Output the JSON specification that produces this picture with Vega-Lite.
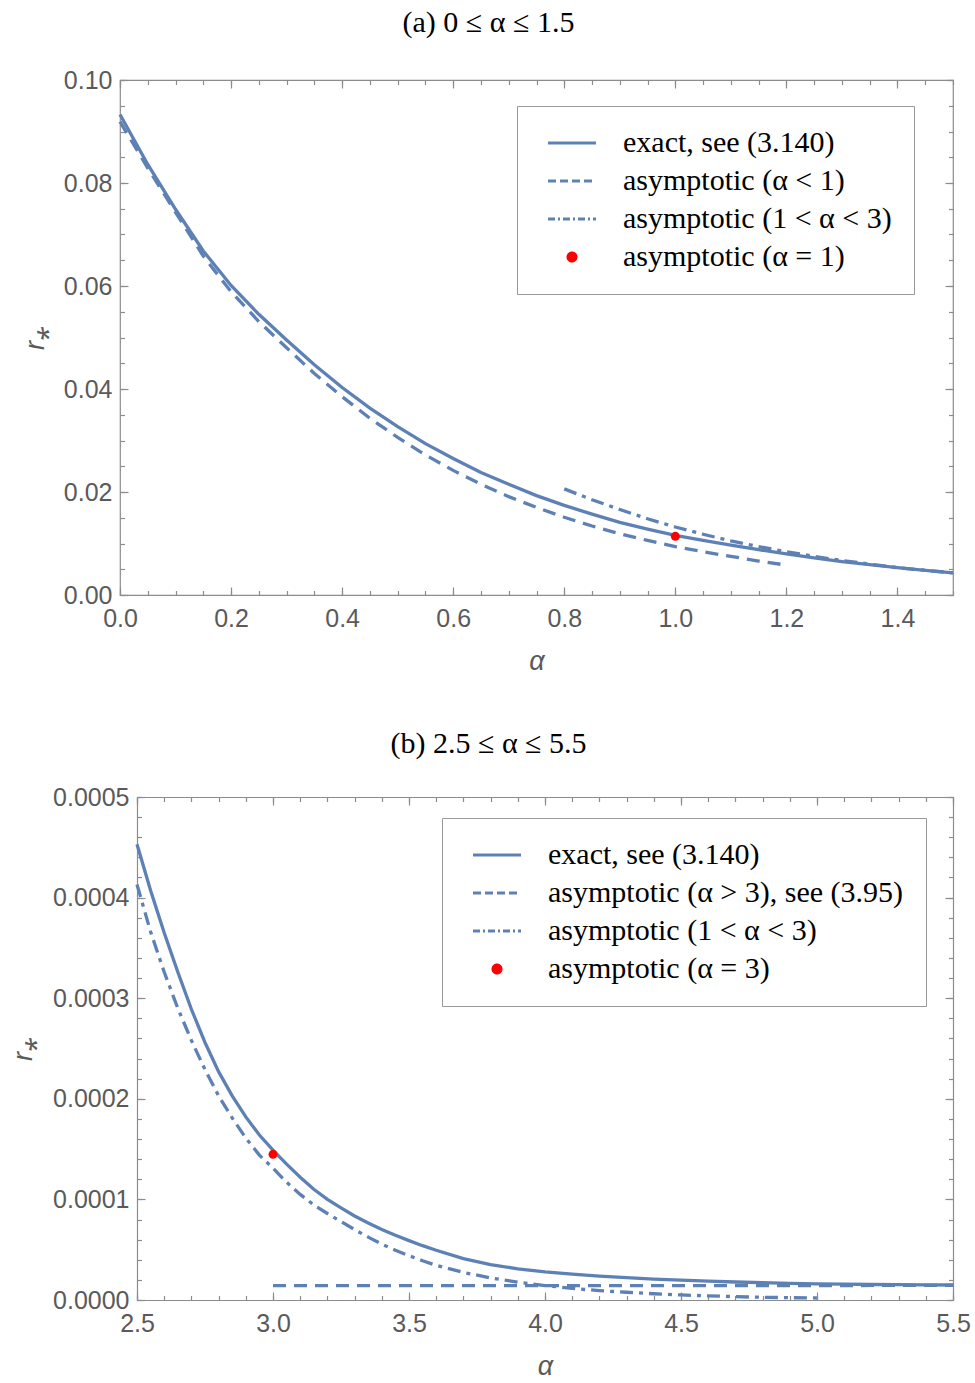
{
  "$schema": "https://vega.github.io/schema/vega-lite/v6.json",
  "background": "white",
  "padding": {"left": 9, "top": 7, "right": 0, "bottom": 0},
  "config": {
    "view": {"stroke": "#8c8c8c", "strokeWidth": 1.2},
    "axis": {"domain": false, "domainColor": "#8c8c8c", "domainWidth": 1.2, "grid": false, "tickColor": "#8c8c8c", "tickWidth": 1.2, "labelColor": "#5a5a5a", "labelFont": "Liberation Sans", "labelFontSize": 25, "labelFlush": false, "labelOverlap": false, "titleFont": "Liberation Sans", "titleFontStyle": "italic", "titleFontWeight": "normal", "titleFontSize": 27, "titleColor": "#5a5a5a"},
    "title": {"font": "Liberation Serif", "fontSize": 30, "fontWeight": "normal", "color": "black", "anchor": "middle", "frame": "group"},
    "legend": {"orient": "none", "title": null, "direction": "vertical", "fillColor": "white", "strokeColor": "#999999", "padding": 22, "symbolSize": 576, "symbolOffset": 18, "labelOffset": 36, "labelFont": "Liberation Serif", "labelFontSize": 30, "labelColor": "black", "labelLimit": 700, "rowPadding": 8}
  },
  "datasets": {
    "a_exact": [
      {"a": 0, "r": 0.0933, "s": "exact, see (3.140)"}, {"a": 0.05, "r": 0.0836, "s": "exact, see (3.140)"}, {"a": 0.1, "r": 0.0749, "s": "exact, see (3.140)"}, {"a": 0.15, "r": 0.0668, "s": "exact, see (3.140)"}, {"a": 0.2, "r": 0.0601, "s": "exact, see (3.140)"}, {"a": 0.25, "r": 0.0545, "s": "exact, see (3.140)"}, {"a": 0.3, "r": 0.0495, "s": "exact, see (3.140)"}, {"a": 0.35, "r": 0.0447, "s": "exact, see (3.140)"}, {"a": 0.4, "r": 0.0403, "s": "exact, see (3.140)"}, {"a": 0.45, "r": 0.0363, "s": "exact, see (3.140)"}, {"a": 0.5, "r": 0.0327, "s": "exact, see (3.140)"}, {"a": 0.55, "r": 0.0294, "s": "exact, see (3.140)"}, {"a": 0.6, "r": 0.0265, "s": "exact, see (3.140)"}, {"a": 0.65, "r": 0.0238, "s": "exact, see (3.140)"}, {"a": 0.7, "r": 0.0215, "s": "exact, see (3.140)"}, {"a": 0.75, "r": 0.0193, "s": "exact, see (3.140)"}, {"a": 0.8, "r": 0.0174, "s": "exact, see (3.140)"}, {"a": 0.85, "r": 0.0157, "s": "exact, see (3.140)"}, {"a": 0.9, "r": 0.0141, "s": "exact, see (3.140)"}, {"a": 0.95, "r": 0.0128, "s": "exact, see (3.140)"}, {"a": 1.0, "r": 0.0116, "s": "exact, see (3.140)"}, {"a": 1.05, "r": 0.0106, "s": "exact, see (3.140)"}, {"a": 1.1, "r": 0.0097, "s": "exact, see (3.140)"}, {"a": 1.15, "r": 0.0088, "s": "exact, see (3.140)"}, {"a": 1.2, "r": 0.008, "s": "exact, see (3.140)"}, {"a": 1.25, "r": 0.0072, "s": "exact, see (3.140)"}, {"a": 1.3, "r": 0.0065, "s": "exact, see (3.140)"}, {"a": 1.35, "r": 0.0059, "s": "exact, see (3.140)"}, {"a": 1.4, "r": 0.0053, "s": "exact, see (3.140)"}, {"a": 1.45, "r": 0.0048, "s": "exact, see (3.140)"}, {"a": 1.5, "r": 0.0043, "s": "exact, see (3.140)"}
    ],
    "a_dash": [
      {"a": 0, "r": 0.0919, "s": "asymptotic (α < 1)"}, {"a": 0.05, "r": 0.0829, "s": "asymptotic (α < 1)"}, {"a": 0.1, "r": 0.0743, "s": "asymptotic (α < 1)"}, {"a": 0.15, "r": 0.0658, "s": "asymptotic (α < 1)"}, {"a": 0.2, "r": 0.0589, "s": "asymptotic (α < 1)"}, {"a": 0.25, "r": 0.0531, "s": "asymptotic (α < 1)"}, {"a": 0.3, "r": 0.048, "s": "asymptotic (α < 1)"}, {"a": 0.35, "r": 0.043, "s": "asymptotic (α < 1)"}, {"a": 0.4, "r": 0.0385, "s": "asymptotic (α < 1)"}, {"a": 0.45, "r": 0.0343, "s": "asymptotic (α < 1)"}, {"a": 0.5, "r": 0.0306, "s": "asymptotic (α < 1)"}, {"a": 0.55, "r": 0.0272, "s": "asymptotic (α < 1)"}, {"a": 0.6, "r": 0.0242, "s": "asymptotic (α < 1)"}, {"a": 0.65, "r": 0.0215, "s": "asymptotic (α < 1)"}, {"a": 0.7, "r": 0.0191, "s": "asymptotic (α < 1)"}, {"a": 0.75, "r": 0.017, "s": "asymptotic (α < 1)"}, {"a": 0.8, "r": 0.0151, "s": "asymptotic (α < 1)"}, {"a": 0.85, "r": 0.0134, "s": "asymptotic (α < 1)"}, {"a": 0.9, "r": 0.0119, "s": "asymptotic (α < 1)"}, {"a": 0.95, "r": 0.0106, "s": "asymptotic (α < 1)"}, {"a": 1.0, "r": 0.0094, "s": "asymptotic (α < 1)"}, {"a": 1.05, "r": 0.0084, "s": "asymptotic (α < 1)"}, {"a": 1.1, "r": 0.0075, "s": "asymptotic (α < 1)"}, {"a": 1.15, "r": 0.0066, "s": "asymptotic (α < 1)"}, {"a": 1.2, "r": 0.0058, "s": "asymptotic (α < 1)"}
    ],
    "a_dashdot": [
      {"a": 0.8, "r": 0.0206, "s": "asymptotic (1 < α < 3)"}, {"a": 0.85, "r": 0.0185, "s": "asymptotic (1 < α < 3)"}, {"a": 0.9, "r": 0.0166, "s": "asymptotic (1 < α < 3)"}, {"a": 0.95, "r": 0.0148, "s": "asymptotic (1 < α < 3)"}, {"a": 1.0, "r": 0.0132, "s": "asymptotic (1 < α < 3)"}, {"a": 1.05, "r": 0.0118, "s": "asymptotic (1 < α < 3)"}, {"a": 1.1, "r": 0.0105, "s": "asymptotic (1 < α < 3)"}, {"a": 1.15, "r": 0.0094, "s": "asymptotic (1 < α < 3)"}, {"a": 1.2, "r": 0.0084, "s": "asymptotic (1 < α < 3)"}, {"a": 1.25, "r": 0.0075, "s": "asymptotic (1 < α < 3)"}, {"a": 1.3, "r": 0.0067, "s": "asymptotic (1 < α < 3)"}, {"a": 1.35, "r": 0.006, "s": "asymptotic (1 < α < 3)"}, {"a": 1.4, "r": 0.0053, "s": "asymptotic (1 < α < 3)"}, {"a": 1.45, "r": 0.0048, "s": "asymptotic (1 < α < 3)"}, {"a": 1.5, "r": 0.0043, "s": "asymptotic (1 < α < 3)"}
    ],
    "a_point": [
      {"a": 1.0, "r": 0.0114, "s": "asymptotic (α = 1)"}
    ],
    "b_exact": [
      {"a": 2.5, "r": 0.000453, "s": "exact, see (3.140)"}, {"a": 2.55, "r": 0.000407, "s": "exact, see (3.140)"}, {"a": 2.6, "r": 0.000365, "s": "exact, see (3.140)"}, {"a": 2.65, "r": 0.000326, "s": "exact, see (3.140)"}, {"a": 2.7, "r": 0.000289, "s": "exact, see (3.140)"}, {"a": 2.75, "r": 0.000256, "s": "exact, see (3.140)"}, {"a": 2.8, "r": 0.000227, "s": "exact, see (3.140)"}, {"a": 2.85, "r": 0.000203, "s": "exact, see (3.140)"}, {"a": 2.9, "r": 0.000182, "s": "exact, see (3.140)"}, {"a": 2.95, "r": 0.000164, "s": "exact, see (3.140)"}, {"a": 3.0, "r": 0.000149, "s": "exact, see (3.140)"}, {"a": 3.05, "r": 0.000135, "s": "exact, see (3.140)"}, {"a": 3.1, "r": 0.000122, "s": "exact, see (3.140)"}, {"a": 3.15, "r": 0.00011, "s": "exact, see (3.140)"}, {"a": 3.2, "r": 0.0001, "s": "exact, see (3.140)"}, {"a": 3.25, "r": 0.0000915, "s": "exact, see (3.140)"}, {"a": 3.3, "r": 0.0000835, "s": "exact, see (3.140)"}, {"a": 3.35, "r": 0.0000765, "s": "exact, see (3.140)"}, {"a": 3.4, "r": 0.00007, "s": "exact, see (3.140)"}, {"a": 3.45, "r": 0.0000643, "s": "exact, see (3.140)"}, {"a": 3.5, "r": 0.000059, "s": "exact, see (3.140)"}, {"a": 3.55, "r": 0.000054, "s": "exact, see (3.140)"}, {"a": 3.6, "r": 0.0000495, "s": "exact, see (3.140)"}, {"a": 3.7, "r": 0.0000412, "s": "exact, see (3.140)"}, {"a": 3.8, "r": 0.0000352, "s": "exact, see (3.140)"}, {"a": 3.9, "r": 0.000031, "s": "exact, see (3.140)"}, {"a": 4.0, "r": 0.000028, "s": "exact, see (3.140)"}, {"a": 4.1, "r": 0.0000257, "s": "exact, see (3.140)"}, {"a": 4.2, "r": 0.0000238, "s": "exact, see (3.140)"}, {"a": 4.3, "r": 0.0000222, "s": "exact, see (3.140)"}, {"a": 4.4, "r": 0.0000208, "s": "exact, see (3.140)"}, {"a": 4.5, "r": 0.0000197, "s": "exact, see (3.140)"}, {"a": 4.6, "r": 0.0000187, "s": "exact, see (3.140)"}, {"a": 4.7, "r": 0.0000179, "s": "exact, see (3.140)"}, {"a": 4.8, "r": 0.0000172, "s": "exact, see (3.140)"}, {"a": 4.9, "r": 0.0000166, "s": "exact, see (3.140)"}, {"a": 5.0, "r": 0.0000161, "s": "exact, see (3.140)"}, {"a": 5.1, "r": 0.0000157, "s": "exact, see (3.140)"}, {"a": 5.2, "r": 0.0000154, "s": "exact, see (3.140)"}, {"a": 5.3, "r": 0.0000152, "s": "exact, see (3.140)"}, {"a": 5.4, "r": 0.000015, "s": "exact, see (3.140)"}, {"a": 5.5, "r": 0.0000149, "s": "exact, see (3.140)"}
    ],
    "b_dash": [
      {"a": 3.0, "r": 0.0000143, "s": "asymptotic (α > 3), see (3.95)"}, {"a": 4.0, "r": 0.0000143, "s": "asymptotic (α > 3), see (3.95)"}, {"a": 5.0, "r": 0.0000144, "s": "asymptotic (α > 3), see (3.95)"}, {"a": 5.5, "r": 0.0000145, "s": "asymptotic (α > 3), see (3.95)"}
    ],
    "b_dashdot": [
      {"a": 2.5, "r": 0.000413, "s": "asymptotic (1 < α < 3)"}, {"a": 2.55, "r": 0.000366, "s": "asymptotic (1 < α < 3)"}, {"a": 2.6, "r": 0.000326, "s": "asymptotic (1 < α < 3)"}, {"a": 2.65, "r": 0.00029, "s": "asymptotic (1 < α < 3)"}, {"a": 2.7, "r": 0.000258, "s": "asymptotic (1 < α < 3)"}, {"a": 2.75, "r": 0.000229, "s": "asymptotic (1 < α < 3)"}, {"a": 2.8, "r": 0.000203, "s": "asymptotic (1 < α < 3)"}, {"a": 2.85, "r": 0.000181, "s": "asymptotic (1 < α < 3)"}, {"a": 2.9, "r": 0.000161, "s": "asymptotic (1 < α < 3)"}, {"a": 2.95, "r": 0.000144, "s": "asymptotic (1 < α < 3)"}, {"a": 3.0, "r": 0.000131, "s": "asymptotic (1 < α < 3)"}, {"a": 3.05, "r": 0.000117, "s": "asymptotic (1 < α < 3)"}, {"a": 3.1, "r": 0.000105, "s": "asymptotic (1 < α < 3)"}, {"a": 3.15, "r": 0.0000945, "s": "asymptotic (1 < α < 3)"}, {"a": 3.2, "r": 0.000086, "s": "asymptotic (1 < α < 3)"}, {"a": 3.25, "r": 0.000078, "s": "asymptotic (1 < α < 3)"}, {"a": 3.3, "r": 0.00007, "s": "asymptotic (1 < α < 3)"}, {"a": 3.35, "r": 0.0000625, "s": "asymptotic (1 < α < 3)"}, {"a": 3.4, "r": 0.0000555, "s": "asymptotic (1 < α < 3)"}, {"a": 3.45, "r": 0.0000495, "s": "asymptotic (1 < α < 3)"}, {"a": 3.5, "r": 0.000044, "s": "asymptotic (1 < α < 3)"}, {"a": 3.55, "r": 0.000039, "s": "asymptotic (1 < α < 3)"}, {"a": 3.6, "r": 0.0000345, "s": "asymptotic (1 < α < 3)"}, {"a": 3.7, "r": 0.0000274, "s": "asymptotic (1 < α < 3)"}, {"a": 3.8, "r": 0.000022, "s": "asymptotic (1 < α < 3)"}, {"a": 3.9, "r": 0.0000178, "s": "asymptotic (1 < α < 3)"}, {"a": 4.0, "r": 0.0000144, "s": "asymptotic (1 < α < 3)"}, {"a": 4.1, "r": 0.0000115, "s": "asymptotic (1 < α < 3)"}, {"a": 4.2, "r": 0.0000093, "s": "asymptotic (1 < α < 3)"}, {"a": 4.3, "r": 0.0000077, "s": "asymptotic (1 < α < 3)"}, {"a": 4.4, "r": 0.0000062, "s": "asymptotic (1 < α < 3)"}, {"a": 4.5, "r": 0.000005, "s": "asymptotic (1 < α < 3)"}, {"a": 4.6, "r": 0.0000041, "s": "asymptotic (1 < α < 3)"}, {"a": 4.7, "r": 0.0000033, "s": "asymptotic (1 < α < 3)"}, {"a": 4.8, "r": 0.0000027, "s": "asymptotic (1 < α < 3)"}, {"a": 4.9, "r": 0.0000023, "s": "asymptotic (1 < α < 3)"}, {"a": 5.0, "r": 0.000002, "s": "asymptotic (1 < α < 3)"}
    ],
    "b_point": [
      {"a": 3.0, "r": 0.0001448, "s": "asymptotic (α = 3)"}
    ]
  },
  "concat": [
    {
      "title": {"text": "(a) 0 ≤ α ≤ 1.5", "offset": 30, "dx": -48},
      "width": 833,
      "height": 515,
      "resolve": {"axis": {"x": "independent", "y": "independent"}},
      "layer": [
        {
          "data": {"name": "a_exact"},
          "mark": {"type": "line", "strokeWidth": 3.3},
          "encoding": {
            "x": {"field": "a", "type": "quantitative", "scale": {"domain": [0, 1.5], "nice": false, "zero": false},
                  "axis": {"orient": "bottom", "values": [0, 0.2, 0.4, 0.6, 0.8, 1.0, 1.2, 1.4], "format": ".1f", "tickSize": -8, "labelPadding": 19, "title": "α", "titlePadding": 17}},
            "y": {"field": "r", "type": "quantitative", "scale": {"domain": [0, 0.1], "nice": false},
                  "axis": {"orient": "left", "values": [0, 0.02, 0.04, 0.06, 0.08, 0.1], "format": ".2f", "tickSize": -8, "labelPadding": 16, "title": "r⁎", "titlePadding": 14}},
            "color": {"field": "s", "type": "nominal",
                      "scale": {"domain": ["exact, see (3.140)", "asymptotic (α < 1)", "asymptotic (1 < α < 3)", "asymptotic (α = 1)"], "range": ["#5e81b5", "#5e81b5", "#5e81b5", "#ff0000"]},
                      "legend": {"legendX": 397, "legendY": 26, "symbolSize": 576,
                        "encode": {"symbols": {"update": {
                          "shape": {"signal": "datum.index == 3 ? 'circle' : 'M-2,0H2'"},
                          "size": {"signal": "datum.index == 3 ? 64 : 576"},
                          "fill": {"signal": "datum.index == 3 ? '#ff0000' : 'transparent'"},
                          "stroke": {"signal": "datum.index == 3 ? 'transparent' : '#5e81b5'"},
                          "strokeWidth": {"value": 3},
                          "strokeDash": {"signal": "datum.index == 1 ? [8,4] : datum.index == 2 ? [7,3,2,3] : [1,0]"},
                          "opacity": {"value": 1}
                        }}}}}
          }
        },
        {
          "data": {"name": "a_dash"},
          "mark": {"type": "line", "strokeWidth": 3.3, "strokeDash": [13, 8]},
          "encoding": {
            "x": {"field": "a", "type": "quantitative", "axis": {"orient": "top", "values": [0, 0.2, 0.4, 0.6, 0.8, 1.0, 1.2, 1.4], "tickSize": -8, "labels": false, "title": null}},
            "y": {"field": "r", "type": "quantitative", "axis": {"orient": "right", "values": [0, 0.02, 0.04, 0.06, 0.08, 0.1], "tickSize": -8, "labels": false, "title": null}},
            "color": {"field": "s", "type": "nominal"}
          }
        },
        {
          "data": {"name": "a_dashdot"},
          "mark": {"type": "line", "strokeWidth": 3.3, "strokeDash": [13, 6, 4, 6]},
          "encoding": {
            "x": {"field": "a", "type": "quantitative", "axis": {"orient": "bottom", "values": [0, 0.05, 0.1, 0.15, 0.2, 0.25, 0.3, 0.35, 0.4, 0.45, 0.5, 0.55, 0.6, 0.65, 0.7, 0.75, 0.8, 0.85, 0.9, 0.95, 1.0, 1.05, 1.1, 1.15, 1.2, 1.25, 1.3, 1.35, 1.4, 1.45, 1.5], "tickSize": -4.5, "labels": false, "title": null}},
            "y": {"field": "r", "type": "quantitative", "axis": {"orient": "left", "values": [0, 0.005, 0.01, 0.015, 0.02, 0.025, 0.03, 0.035, 0.04, 0.045, 0.05, 0.055, 0.06, 0.065, 0.07, 0.075, 0.08, 0.085, 0.09, 0.095, 0.1], "tickSize": -4.5, "labels": false, "title": null}},
            "color": {"field": "s", "type": "nominal"}
          }
        },
        {
          "data": {"name": "a_point"},
          "mark": {"type": "point", "filled": true, "size": 80, "opacity": 1},
          "encoding": {
            "x": {"field": "a", "type": "quantitative", "axis": {"orient": "top", "values": [0, 0.05, 0.1, 0.15, 0.2, 0.25, 0.3, 0.35, 0.4, 0.45, 0.5, 0.55, 0.6, 0.65, 0.7, 0.75, 0.8, 0.85, 0.9, 0.95, 1.0, 1.05, 1.1, 1.15, 1.2, 1.25, 1.3, 1.35, 1.4, 1.45, 1.5], "tickSize": -4.5, "labels": false, "title": null}},
            "y": {"field": "r", "type": "quantitative", "axis": {"orient": "right", "values": [0, 0.005, 0.01, 0.015, 0.02, 0.025, 0.03, 0.035, 0.04, 0.045, 0.05, 0.055, 0.06, 0.065, 0.07, 0.075, 0.08, 0.085, 0.09, 0.095, 0.1], "tickSize": -4.5, "labels": false, "title": null}},
            "color": {"field": "s", "type": "nominal"}
          }
        }
      ]
    },
    {
      "title": {"text": "(b) 2.5 ≤ α ≤ 5.5", "offset": 26, "dx": -48},
      "width": 833,
      "height": 503,
      "view": {"stroke": null},
      "resolve": {"axis": {"x": "independent", "y": "independent"}},
      "layer": [
        {
          "data": {"name": "b_exact"},
          "mark": {"type": "line", "strokeWidth": 3.3},
          "encoding": {
            "x": {"field": "a", "type": "quantitative", "scale": {"domain": [2.5, 5.5], "nice": false, "zero": false, "range": [17, 833]},
                  "axis": {"orient": "bottom", "domain": true, "values": [2.5, 3, 3.5, 4, 4.5, 5, 5.5], "format": ".1f", "tickSize": -8, "labelPadding": 19, "title": "α", "titlePadding": 17}},
            "y": {"field": "r", "type": "quantitative", "scale": {"domain": [0, 0.0005], "nice": false},
                  "axis": {"orient": "left", "offset": -17, "domain": true, "values": [0, 0.0001, 0.0002, 0.0003, 0.0004, 0.0005], "format": ".4f", "tickSize": -8, "labelPadding": 16, "title": "r⁎", "titlePadding": 15}},
            "color": {"field": "s", "type": "nominal",
                      "scale": {"domain": ["exact, see (3.140)", "asymptotic (α > 3), see (3.95)", "asymptotic (1 < α < 3)", "asymptotic (α = 3)"], "range": ["#5e81b5", "#5e81b5", "#5e81b5", "#ff0000"]},
                      "legend": {"legendX": 322, "legendY": 21, "symbolSize": 576,
                        "encode": {"symbols": {"update": {
                          "shape": {"signal": "datum.index == 3 ? 'circle' : 'M-2,0H2'"},
                          "size": {"signal": "datum.index == 3 ? 64 : 576"},
                          "fill": {"signal": "datum.index == 3 ? '#ff0000' : 'transparent'"},
                          "stroke": {"signal": "datum.index == 3 ? 'transparent' : '#5e81b5'"},
                          "strokeWidth": {"value": 3},
                          "strokeDash": {"signal": "datum.index == 1 ? [8,4] : datum.index == 2 ? [7,3,2,3] : [1,0]"},
                          "opacity": {"value": 1}
                        }}}}}
          }
        },
        {
          "data": {"name": "b_dash"},
          "mark": {"type": "line", "strokeWidth": 3.3, "strokeDash": [13, 8]},
          "encoding": {
            "x": {"field": "a", "type": "quantitative", "axis": {"orient": "top", "domain": true, "values": [2.5, 3, 3.5, 4, 4.5, 5, 5.5], "tickSize": -8, "labels": false, "title": null}},
            "y": {"field": "r", "type": "quantitative", "axis": {"orient": "right", "domain": true, "values": [0, 0.0001, 0.0002, 0.0003, 0.0004, 0.0005], "tickSize": -8, "labels": false, "title": null}},
            "color": {"field": "s", "type": "nominal"}
          }
        },
        {
          "data": {"name": "b_dashdot"},
          "mark": {"type": "line", "strokeWidth": 3.3, "strokeDash": [13, 6, 4, 6]},
          "encoding": {
            "x": {"field": "a", "type": "quantitative", "axis": {"orient": "bottom", "values": [2.5, 2.6, 2.7, 2.8, 2.9, 3.0, 3.1, 3.2, 3.3, 3.4, 3.5, 3.6, 3.7, 3.8, 3.9, 4.0, 4.1, 4.2, 4.3, 4.4, 4.5, 4.6, 4.7, 4.8, 4.9, 5.0, 5.1, 5.2, 5.3, 5.4, 5.5], "tickSize": -4.5, "labels": false, "title": null}},
            "y": {"field": "r", "type": "quantitative", "axis": {"orient": "left", "offset": -17, "values": [0, 0.00002, 0.00004, 0.00006, 0.00008, 0.0001, 0.00012, 0.00014, 0.00016, 0.00018, 0.0002, 0.00022, 0.00024, 0.00026, 0.00028, 0.0003, 0.00032, 0.00034, 0.00036, 0.00038, 0.0004, 0.00042, 0.00044, 0.00046, 0.00048, 0.0005], "tickSize": -4.5, "labels": false, "title": null}},
            "color": {"field": "s", "type": "nominal"}
          }
        },
        {
          "data": {"name": "b_point"},
          "mark": {"type": "point", "filled": true, "size": 80, "opacity": 1},
          "encoding": {
            "x": {"field": "a", "type": "quantitative", "axis": {"orient": "top", "values": [2.5, 2.6, 2.7, 2.8, 2.9, 3.0, 3.1, 3.2, 3.3, 3.4, 3.5, 3.6, 3.7, 3.8, 3.9, 4.0, 4.1, 4.2, 4.3, 4.4, 4.5, 4.6, 4.7, 4.8, 4.9, 5.0, 5.1, 5.2, 5.3, 5.4, 5.5], "tickSize": -4.5, "labels": false, "title": null}},
            "y": {"field": "r", "type": "quantitative", "axis": {"orient": "right", "values": [0, 0.00002, 0.00004, 0.00006, 0.00008, 0.0001, 0.00012, 0.00014, 0.00016, 0.00018, 0.0002, 0.00022, 0.00024, 0.00026, 0.00028, 0.0003, 0.00032, 0.00034, 0.00036, 0.00038, 0.0004, 0.00042, 0.00044, 0.00046, 0.00048, 0.0005], "tickSize": -4.5, "labels": false, "title": null}},
            "color": {"field": "s", "type": "nominal"}
          }
        }
      ]
    }
  ],
  "columns": 1,
  "spacing": 54,
  "resolve": {"scale": {"color": "independent"}, "legend": {"color": "independent"}}
}
